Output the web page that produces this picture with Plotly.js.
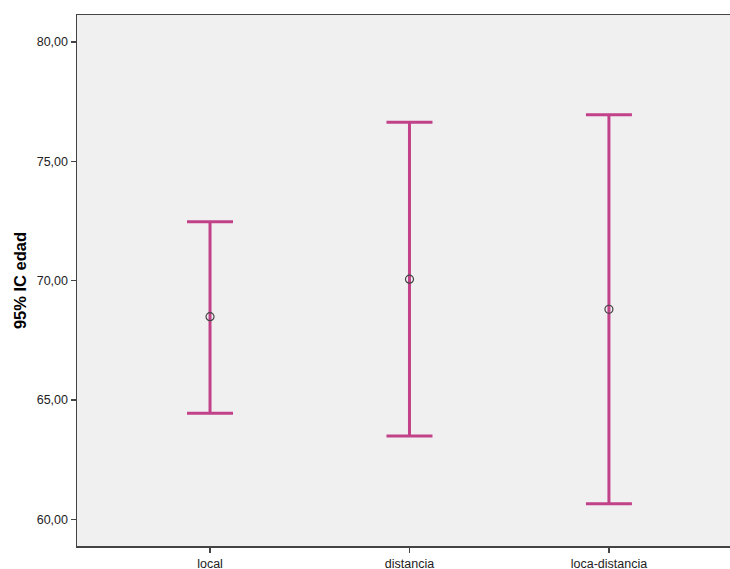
<!DOCTYPE html>
<html>
<head>
<meta charset="utf-8">
<script src="https://cdn.plot.ly/plotly-3.0.1.min.js"></script>
<style>html,body{margin:0;padding:0;background:#fff;}#chart{width:730px;height:569px;}</style>
</head>
<body>
<div id="chart"></div>
<script>
const categories = ["local", "distancia", "loca-distancia"];
const means = [68.49, 70.06, 68.80];
const upper = [72.47, 76.64, 76.95];
const lower = [64.44, 63.49, 60.65];
const yTicks = [60, 65, 70, 75, 80];

const plus = upper.map((u, i) => u - means[i]);
const minus = means.map((m, i) => m - lower[i]);
const barColor = "#c2428a";

const trace = {
  type: "scatter",
  mode: "markers",
  x: categories,
  y: means,
  marker: {symbol: "circle-open", size: 8, color: "#444", line: {width: 1.2, color: "#444"}},
  error_y: {type: "data", symmetric: false, array: plus, arrayminus: minus, color: barColor, thickness: 3, width: 23},
  hoverinfo: "skip"
};

const layout = {
  width: 730, height: 569,
  margin: {l: 77, r: 0, t: 15, b: 23},
  paper_bgcolor: "#ffffff",
  plot_bgcolor: "#f0f0f0",
  separators: ",.",
  showlegend: false,
  font: {family: "Liberation Sans, Arial, sans-serif", size: 12, color: "#222"},
  xaxis: {
    type: "category",
    range: [-0.667, 2.607],
    showgrid: false, zeroline: false,
    showline: true, linecolor: "#444", linewidth: 1.5, mirror: true,
    ticks: "outside", ticklen: 5, tickcolor: "#444", tickwidth: 1.5,
    tickfont: {size: 12.5, color: "#222"}
  },
  yaxis: {
    range: [58.88, 81.13],
    tickvals: yTicks,
    tickformat: ".2f",
    showgrid: false, zeroline: false,
    showline: true, linecolor: "#444", linewidth: 1.5,
    ticks: "outside", ticklen: 5, tickcolor: "#444", tickwidth: 1.5,
    tickfont: {size: 12.5, color: "#222"},
    title: {text: "95% IC edad", font: {size: 16.5, color: "#000", weight: "bold"}, standoff: 6}
  }
};

Plotly.newPlot("chart", [trace], layout, {displayModeBar: false, staticPlot: true});
</script>
</body>
</html>
